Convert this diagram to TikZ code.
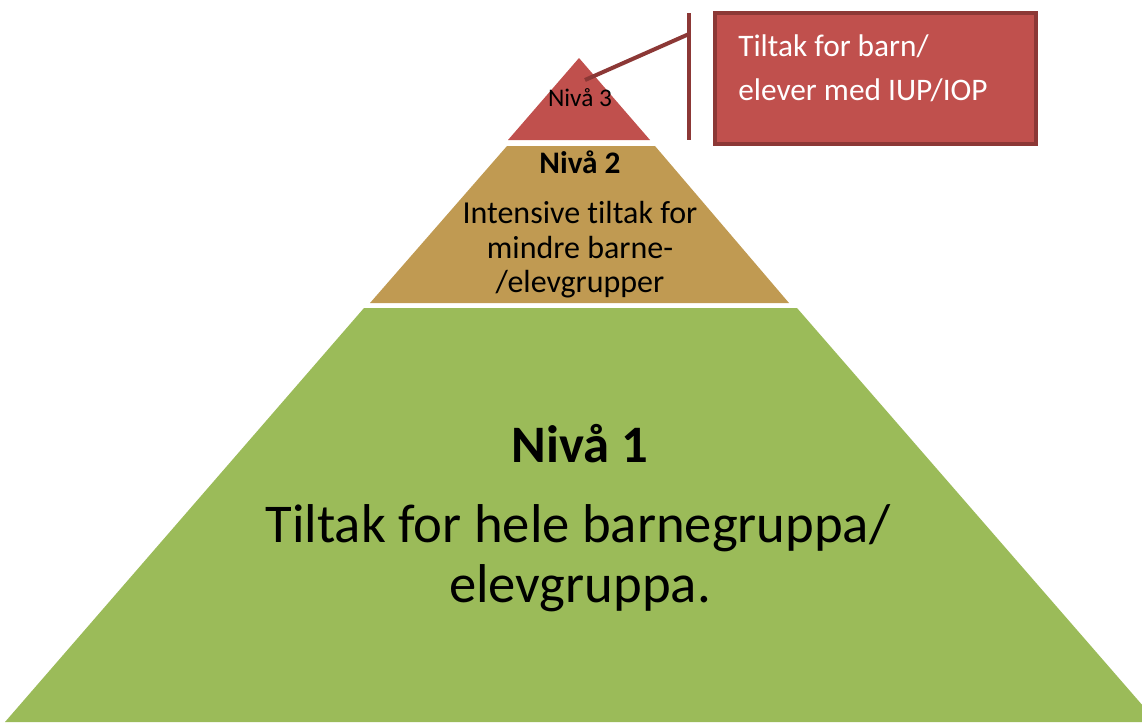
\documentclass[tikz,border=0pt]{standalone}
\usepackage{fontspec}
\setmainfont{Carlito}[Ligatures=NoCommon]
\definecolor{lvlred}{HTML}{C0504D}
\definecolor{lvltan}{HTML}{C09A52}
\definecolor{lvlgreen}{HTML}{9BBB59}
\definecolor{darkred}{HTML}{8C3836}
\begin{document}
\begin{tikzpicture}[x=0.75pt,y=-0.75pt,
  lbl/.style={anchor=base,inner sep=0pt,text=black},
  boxtxt/.style={anchor=base west,inner sep=0pt,text=white,font=\fontsize{23.5}{27}\selectfont},
  leader/.style={draw=darkred,line width=3pt}]
\useasboundingbox (0,0) rectangle (1142,722);
% level 1
\begin{scope}
\clip (0,0) rectangle (1142,722);
\fill[lvlgreen] (364,308) -- (797,308) -- (1157,722) -- (5,722) -- cycle;
\end{scope}
% level 2
\fill[lvltan] (507,146) -- (655,146) -- (789,303) -- (370,303) -- cycle;
% level 3
\fill[lvlred] (579,58) -- (650,140) -- (508,140) -- cycle;
% callout box
\fill[black!20] (716,13) rectangle (1038,146);
\node[draw=darkred,fill=lvlred,line width=3pt,minimum width=321*0.75pt,minimum height=131*0.75pt,anchor=north west,inner sep=0pt] (box) at (713,11) {};
\node[boxtxt] (b1) at (738,56) {Tiltak for barn/};
\node[boxtxt] (b2) at (738,100) {elever med IUP/IOP};
% bracket and leader
\coordinate (vtop) at (689,13);
\coordinate (vbot) at (689,140);
\coordinate (vmid) at (689,34);
\coordinate (tip) at (585,80);
\draw[leader] (vtop) -- (vbot);
\draw[leader] (vmid) -- (tip);
% labels
\node[lbl,font=\fontsize{19}{22}\selectfont] (n3) at (580,106) {Nivå 3};
\node[lbl,font=\bfseries\fontsize{23.5}{27}\selectfont] (n2t) at (580,173) {Nivå 2};
\node[lbl,font=\fontsize{24}{28}\selectfont] (n2a) at (580,223) {Intensive tiltak for};
\node[lbl,font=\fontsize{24}{28}\selectfont] (n2b) at (580,258) {mindre barne-};
\node[lbl,font=\fontsize{24}{28}\selectfont] (n2c) at (580,292) {/elevgrupper};
\node[lbl,font=\bfseries\fontsize{39.5}{46}\selectfont] (n1t) at (580,462) {Nivå 1};
\node[lbl,font=\fontsize{41}{48}\selectfont] (n1a) at (578,542) {Tiltak for hele barnegruppa/};
\node[lbl,font=\fontsize{41}{48}\selectfont] (n1b) at (580,602) {elevgruppa.};
\end{tikzpicture}
\end{document}
